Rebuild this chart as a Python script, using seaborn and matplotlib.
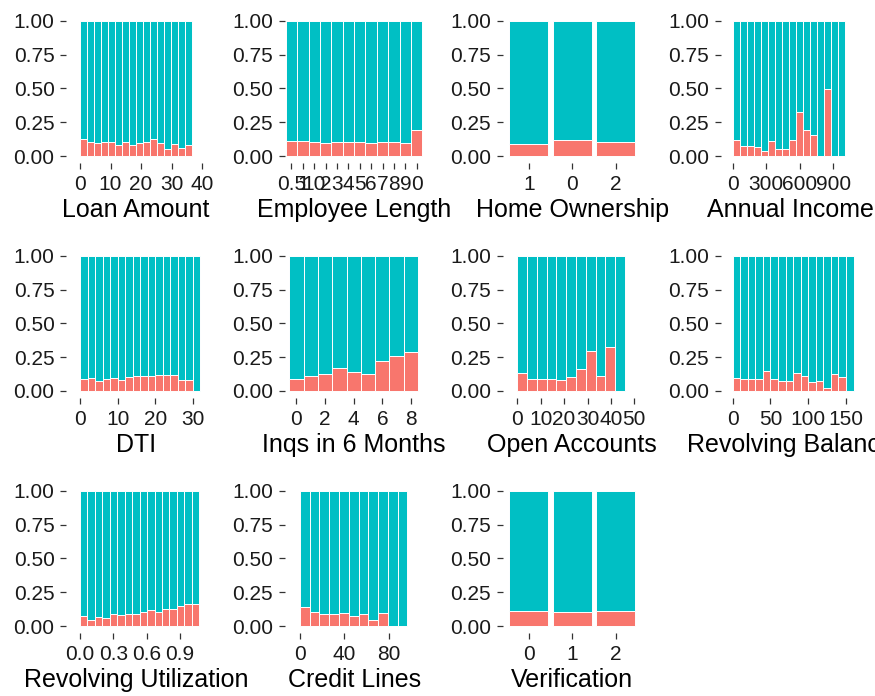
import numpy as np
import pandas as pd
import matplotlib
matplotlib.use("Agg")
import matplotlib.pyplot as plt
import seaborn as sns

# ---- data: share of defaulted loans in each bin / level (rest are paid) ----
loan_amount_start, loan_amount_width = 0.0, 2.3
loan_amount_default = [0.126, 0.106, 0.096, 0.103, 0.101, 0.079, 0.101, 0.081,
                       0.096, 0.101, 0.126, 0.094, 0.054, 0.091, 0.061, 0.081]

emp_length_levels = ["0.5", "1", "10", "2", "3", "4", "5", "6", "7", "8", "9", "0"]
emp_length_default = [0.110, 0.110, 0.106, 0.096, 0.106, 0.106, 0.106, 0.096,
                      0.106, 0.106, 0.093, 0.190]

home_levels = ["1", "0", "2"]
home_default = [0.091, 0.115, 0.106]

income_start, income_width = 0.0, 62.8
income_default = [0.116, 0.074, 0.074, 0.067, 0.040, 0.110, 0.050, 0.054,
                  0.115, 0.326, 0.190, 0.158, 0.0, 0.495, 0.0, 0.0]

dti_start, dti_width = 0.0, 2.0
dti_default = [0.086, 0.094, 0.074, 0.086, 0.099, 0.084, 0.104, 0.111,
               0.111, 0.114, 0.116, 0.119, 0.119, 0.079, 0.079, 0.0]

inqs_start, inqs_width = -0.5, 1.0
inqs_default = [0.091, 0.113, 0.123, 0.172, 0.138, 0.128, 0.219, 0.260, 0.285]

open_acc_start, open_acc_width = 0.0, 4.18
open_acc_default = [0.133, 0.091, 0.091, 0.086, 0.084, 0.106, 0.165, 0.294,
                    0.111, 0.323, 0.0]

revol_bal_start, revol_bal_width = 0.0, 10.0
revol_bal_default = [0.096, 0.091, 0.091, 0.091, 0.148, 0.091, 0.074, 0.074,
                     0.136, 0.109, 0.064, 0.077, 0.022, 0.123, 0.106, 0.0]

revol_util_start, revol_util_width = 0.0, 0.0671
revol_util_default = [0.077, 0.044, 0.067, 0.059, 0.086, 0.081, 0.091, 0.091,
                      0.104, 0.116, 0.106, 0.123, 0.123, 0.146, 0.165, 0.165]

credit_lines_start, credit_lines_width = 0.0, 8.77
credit_lines_default = [0.141, 0.106, 0.086, 0.086, 0.096, 0.077, 0.086, 0.047,
                        0.099, 0.0, 0.0]

verification_levels = ["0", "1", "2"]
verification_default = [0.108, 0.100, 0.108]

PALETTE = {"Default": "#F8766D", "Paid": "#00BFC4"}

sns.set_style("white")
plt.rcParams["font.family"] = ["Liberation Sans", "DejaVu Sans"]

W, H = 875, 696
fig = plt.figure(figsize=(W / 100, H / 100), dpi=100)


def panel_axes(row, col):
    left = 66.4 + 218.2 * col
    width = 139.0
    y_one = 20.7 + 235.0 * row
    y_zero = 156.0 + 235.0 * row
    pad = 0.05 * (y_zero - y_one)
    top, bottom = y_one - pad, y_zero + pad
    return fig.add_axes([left / W, 1 - bottom / H, width / W, (bottom - top) / H])


def stacked_fill(ax, x, default_share, **kw):
    share = np.asarray(default_share, dtype=float)
    n = len(share)
    df = pd.DataFrame({
        "x": np.concatenate([x, x]),
        "status": ["Default"] * n + ["Paid"] * n,
        "share": np.concatenate([share, 1 - share]),
    })
    sns.histplot(data=df, x="x", weights="share", hue="status",
                 hue_order=["Paid", "Default"], multiple="fill",
                 palette=PALETTE, alpha=1, edgecolor="white", linewidth=0.7,
                 legend=False, ax=ax, **kw)


def binned(ax, start, width, default_share):
    n = len(default_share)
    edges = [start + width * i for i in range(n + 1)]
    centers = [(a + b) / 2 for a, b in zip(edges[:-1], edges[1:])]
    stacked_fill(ax, centers, default_share, bins=edges)


def levels(ax, names, default_share, shrink):
    pos = np.arange(len(names))
    stacked_fill(ax, pos, default_share, discrete=True, shrink=shrink)
    ax.set_xticks(pos)
    ax.set_xticklabels(names)


def finish(ax, title, xlim, ticks=None, ticklabels=None):
    ax.set_xlim(*xlim)
    ax.set_ylim(-0.05, 1.05)
    if ticks is not None:
        ax.set_xticks(ticks)
        ax.set_xticklabels(ticklabels if ticklabels is not None else [str(t) for t in ticks])
    ax.set_yticks([0, 0.25, 0.5, 0.75, 1.0])
    ax.set_yticklabels(["0.00", "0.25", "0.50", "0.75", "1.00"])
    ax.set_xlabel(title, fontsize=18, color="black", labelpad=3)
    ax.set_ylabel("")
    for s in ax.spines.values():
        s.set_visible(False)
    ax.tick_params(axis="both", which="both", length=4, width=0.9,
                   color="#333333", labelsize=15, labelcolor="#1a1a1a",
                   bottom=True, left=True)
    ax.tick_params(axis="y", pad=4.5)
    ax.tick_params(axis="x", pad=5)
    ax.set_facecolor("white")
    ax.grid(False)


ax = panel_axes(0, 0)
binned(ax, loan_amount_start, loan_amount_width, loan_amount_default)
finish(ax, "Loan Amount", (-4.46, 41.1), [0, 10, 20, 30, 40])

ax = panel_axes(0, 1)
levels(ax, emp_length_levels, emp_length_default, shrink=1.0)
finish(ax, "Employee Length", (-0.6, 11.6))

ax = panel_axes(0, 2)
levels(ax, home_levels, home_default, shrink=0.9)
finish(ax, "Home Ownership", (-0.6, 2.6))

ax = panel_axes(0, 3)
binned(ax, income_start, income_width, income_default)
finish(ax, "Annual Income", (-104.7, 1138.6), [0, 300, 600, 900])

ax = panel_axes(1, 0)
binned(ax, dti_start, dti_width, dti_default)
finish(ax, "DTI", (-3.62, 33.38), [0, 10, 20, 30])

ax = panel_axes(1, 1)
binned(ax, inqs_start, inqs_width, inqs_default)
finish(ax, "Inqs in 6 Months", (-0.82, 8.88), [0, 2, 4, 6, 8])

ax = panel_axes(1, 2)
binned(ax, open_acc_start, open_acc_width, open_acc_default)
finish(ax, "Open Accounts", (-6.2, 53.2), [0, 10, 20, 30, 40, 50])

ax = panel_axes(1, 3)
binned(ax, revol_bal_start, revol_bal_width, revol_bal_default)
finish(ax, "Revolving Balance", (-15.5, 168.5), [0, 50, 100, 150])

ax = panel_axes(2, 0)
binned(ax, revol_util_start, revol_util_width, revol_util_default)
finish(ax, "Revolving Utilization", (-0.122, 1.129), [0, 0.3, 0.6, 0.9],
       ["0.0", "0.3", "0.6", "0.9"])

ax = panel_axes(2, 1)
binned(ax, credit_lines_start, credit_lines_width, credit_lines_default)
finish(ax, "Credit Lines", (-13.8, 111.1), [0, 40, 80])

ax = panel_axes(2, 2)
levels(ax, verification_levels, verification_default, shrink=0.9)
finish(ax, "Verification", (-0.6, 2.6))

fig.savefig("out.png", dpi=100, facecolor="white")
